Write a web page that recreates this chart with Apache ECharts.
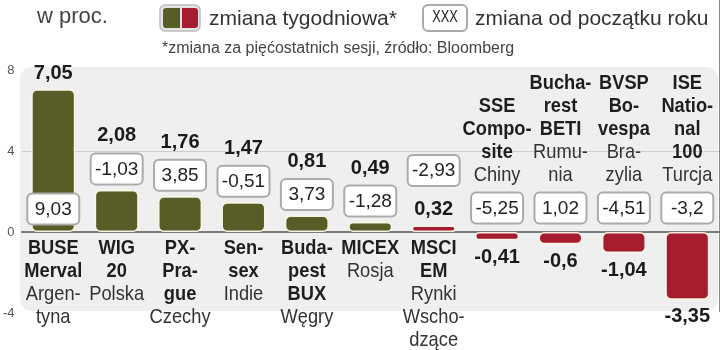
<!DOCTYPE html>
<html>
<head>
<meta charset="utf-8">
<script src="https://cdn.jsdelivr.net/npm/echarts@6/dist/echarts.min.js"></script>
<style>html,body{margin:0;padding:0;background:#fff}#c{width:720px;height:350px}</style>
</head>
<body>
<div id="c"></div>
<script>
// ---- data ----
const categories = ['BUSE Merval','WIG 20','PX-Prague','Sensex','Budapest BUX','MICEX','MSCI EM','SSE Composite','Bucharest BETI','BVSP Bovespa','ISE National 100'];
const nameLines = [['BUSE','Merval'],['WIG','20'],['PX-','Pra-','gue'],['Sen-','sex'],['Buda-','pest','BUX'],['MICEX'],['MSCI','EM'],['SSE','Compo-','site'],['Bucha-','rest','BETI'],['BVSP','Bo-','vespa'],['ISE','Natio-','nal','100']];
const countryLines = [['Argen-','tyna'],['Polska'],['Czechy'],['Indie'],['Węgry'],['Rosja'],['Rynki','Wscho-','dzące'],['Chiny'],['Rumu-','nia'],['Bra-','zylia'],['Turcja']];
const weeklyChange = [7.05, 2.08, 1.76, 1.47, 0.81, 0.49, 0.32, -0.41, -0.6, -1.04, -3.35];
const ytdChange = [9.03, -1.03, 3.85, -0.51, 3.73, -1.28, -2.93, -5.25, 1.02, -4.51, -3.2];
const yTicks = [-4, 0, 4, 8];

// ---- styles (not data) ----
const GREEN = '#585d27', RED = '#a51c31';
const barTone = ['g','g','g','g','g','g','r','r','r','r','r'];
const boxMode = ['inside','above','above','above','above','above','swap','below','below','below','below'];
const FONT = '"Liberation Sans", Arial, sans-serif';

const fmt = v => String(v).replace('.', ',');

const chart = echarts.init(document.getElementById('c'));

function txt(t, x, y, size, weight, fill, sx) {
  return {type:'text', x:x, y:y, scaleX: sx || 1,
    style:{text:t, x:0, y:0, align:'center', verticalAlign:'middle',
      fontSize:size, fontWeight:weight, fontFamily:FONT, fill:fill}};
}

function renderItem(params, api) {
  const i = params.dataIndex;
  const v = api.value(1);
  const p0 = api.coord([i, 0]);
  const x = p0[0], zeroY = p0[1];
  const endY = api.coord([i, v])[1];
  const mode = boxMode[i];
  let labelY, boxY;
  if (mode === 'inside') { labelY = endY - 16; boxY = zeroY - 23; }
  else if (mode === 'above') { boxY = endY - 21; labelY = boxY - 33; }
  else if (mode === 'swap') { labelY = endY - 16; boxY = labelY - 39; }
  else { boxY = zeroY - 24; labelY = endY + 17; }
  const children = [];
  children.push(txt(fmt(v), x, labelY, 20, 'bold', '#1b1b1b'));
  children.push({type:'rect', shape:{x:x-26, y:boxY-15.5, width:52, height:31, r:5},
    style:{fill:'#ffffff', stroke:'#ababab', lineWidth:2}});
  children.push(txt(fmt(ytdChange[i]), x, boxY + 0.5, 19, 'normal', '#222'));
  const lines = nameLines[i].map(t => ({t:t, b:true})).concat(countryLines[i].map(t => ({t:t, b:false})));
  const start = mode === 'below' ? (boxY - 33 - (lines.length - 1) * 23) : zeroY + 16;
  lines.forEach((l, k) => {
    children.push(txt(l.t, x, start + k * 23, 21, l.b ? 'bold' : 'normal', l.b ? '#1e1e1e' : '#333', 0.87));
  });
  return {type:'group', children:children};
}

const option = {
  animation: false,
  backgroundColor: '#ffffff',
  grid: {left: 21, right: 1, top: 70, bottom: 37},
  xAxis: {
    type: 'category', data: categories,
    axisLabel: {show: false}, axisTick: {show: false},
    axisLine: {show: true, lineStyle: {color: '#555', width: 1.5}},
    splitLine: {show: false}
  },
  yAxis: {
    type: 'value', min: yTicks[0], max: yTicks[yTicks.length - 1], interval: 4,
    axisLine: {show: false}, axisTick: {show: false},
    axisLabel: {color: '#555', fontSize: 13, fontFamily: FONT, margin: 7},
    splitLine: {show: true, lineStyle: {color: ['rgba(0,0,0,0)', 'rgba(0,0,0,0)', '#cfcfcf', 'rgba(0,0,0,0)'], width: 1}}
  },
  graphic: [
    {type:'rect', z:-10, shape:{x:20, y:67, width:698, height:244, r:12}, style:{fill:'#efefef'}},
    {type:'line', shape:{x1:719.5, y1:0, x2:719.5, y2:312}, style:{stroke:'#888', lineWidth:1}},
    {type:'text', x:37, y:17, style:{text:'w proc.', fontSize:22, fontFamily:FONT, fill:'#444', verticalAlign:'middle'}},
    {type:'rect', shape:{x:160, y:5, width:40, height:26, r:5}, style:{fill:'#e4e4e4', stroke:'#bdbdbd', lineWidth:1.5}},
    {type:'rect', shape:{x:163, y:8, width:17, height:20, r:[3,0,0,3]}, style:{fill:GREEN}},
    {type:'rect', shape:{x:182, y:8, width:16, height:20, r:[0,3,3,0]}, style:{fill:RED}},
    {type:'text', x:209, y:19.5, style:{text:'zmiana tygodniowa*', fontSize:21, fontFamily:FONT, fill:'#333', verticalAlign:'middle'}},
    {type:'rect', shape:{x:423, y:5, width:44, height:26, r:5}, style:{fill:'#fff', stroke:'#aaa', lineWidth:2}},
    {type:'text', x:445, y:18, scaleX:0.8, style:{text:'XXX', fontSize:16, fontFamily:FONT, fill:'#222', align:'center', verticalAlign:'middle'}},
    {type:'text', x:475, y:19.5, style:{text:'zmiana od początku roku', fontSize:21, fontFamily:FONT, fill:'#333', verticalAlign:'middle'}},
    {type:'text', x:162, y:48.5, style:{text:'*zmiana za pięćostatnich sesji, źródło: Bloomberg', fontSize:16, fontFamily:FONT, fill:'#444', verticalAlign:'middle'}}
  ],
  series: [
    {
      type: 'bar', barWidth: 44, z: 2,
      data: weeklyChange.map((v, i) => ({value: v, itemStyle: {color: barTone[i] === 'g' ? GREEN : RED}})),
      itemStyle: {borderRadius: 5, borderColor: 'rgba(250,248,232,0.95)', borderWidth: 1.5},
      label: {show: false}
    },
    {
      type: 'custom', z: 5, clip: false, silent: true,
      data: weeklyChange.map((v, i) => [i, v]),
      encode: {x: 0, y: 1},
      renderItem: renderItem
    }
  ]
};
chart.setOption(option);
</script>
</body>
</html>
